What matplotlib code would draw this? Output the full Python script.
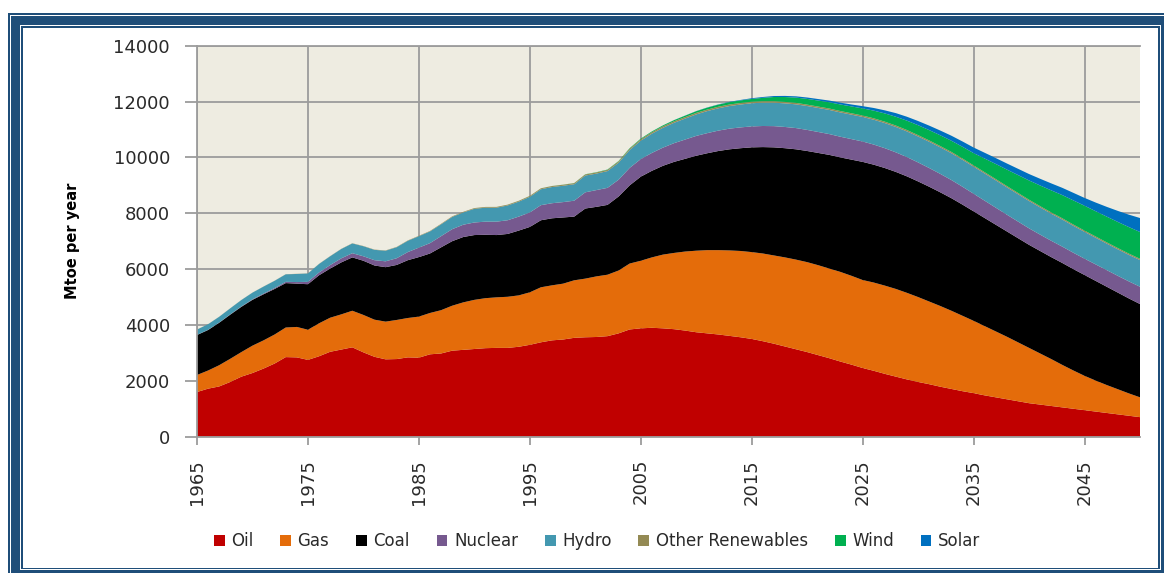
import matplotlib
matplotlib.use("Agg")
import matplotlib.pyplot as plt
from matplotlib.patches import Rectangle

# ---------------- data (Mtoe per year) ----------------
years = list(range(1965, 2051))

oil = [1600, 1720, 1800, 1960, 2150, 2280, 2440, 2620, 2850, 2840,
       2750, 2880, 3040, 3120, 3200, 3020, 2860, 2770, 2780, 2840,
       2830, 2950, 2980, 3080, 3110, 3140, 3170, 3180, 3180, 3220,
       3290, 3380, 3450, 3480, 3540, 3560, 3570, 3600, 3700, 3840,
       3880, 3900, 3880, 3850, 3800, 3740, 3700, 3660, 3610, 3560,
       3500, 3420, 3330, 3230, 3130, 3030, 2920, 2810, 2690, 2580,
       2460, 2360, 2250, 2150, 2050, 1960, 1880, 1790, 1710, 1630,
       1560, 1480, 1410, 1340, 1270, 1200, 1150, 1100, 1050, 1000,
       950, 900, 850, 800, 750, 700]

gas = [610, 650, 760, 830, 880, 980, 1010, 1040, 1060, 1090,
       1080, 1180, 1220, 1260, 1310, 1340, 1330, 1350, 1400, 1410,
       1470, 1480, 1550, 1610, 1700, 1760, 1790, 1810, 1830, 1840,
       1880, 1970, 1970, 2000, 2060, 2100, 2170, 2200, 2250, 2360,
       2420, 2520, 2640, 2730, 2830, 2920, 2980, 3020, 3060, 3090,
       3110, 3140, 3160, 3190, 3210, 3220, 3220, 3210, 3210, 3180,
       3150, 3160, 3160, 3140, 3100, 3040, 2960, 2890, 2800, 2700,
       2590, 2480, 2360, 2240, 2110, 1980, 1830, 1680, 1520, 1370,
       1230, 1110, 1000, 900, 800, 710]

coal = [1430, 1450, 1520, 1580, 1620, 1640, 1650, 1630, 1590, 1550,
        1630, 1720, 1760, 1860, 1910, 1940, 1940, 1950, 1970, 2070,
        2130, 2130, 2250, 2310, 2340, 2320, 2270, 2230, 2250, 2320,
        2340, 2400, 2400, 2370, 2280, 2510, 2490, 2500, 2650, 2800,
        3010, 3100, 3180, 3260, 3320, 3400, 3470, 3550, 3620, 3680,
        3750, 3810, 3870, 3910, 3950, 3980, 4020, 4070, 4100, 4160,
        4230, 4220, 4210, 4190, 4170, 4140, 4110, 4070, 4030, 3980,
        3920, 3870, 3820, 3770, 3730, 3690, 3670, 3650, 3650, 3630,
        3610, 3570, 3520, 3460, 3400, 3340]

nuclear = [6, 8, 9, 12, 14, 18, 25, 33, 45, 57,
           85, 100, 125, 145, 150, 160, 190, 210, 240, 290,
           340, 370, 400, 430, 440, 450, 470, 480, 490, 500,
           520, 540, 540, 550, 570, 580, 600, 610, 600, 625,
           630, 640, 650, 670, 690, 710, 720, 730, 740, 745,
           750, 755, 760, 760, 760, 755, 750, 745, 740, 735,
           730, 720, 710, 700, 690, 680, 670, 660, 650, 640,
           630, 620, 610, 600, 595, 590, 585, 585, 585, 585,
           585, 590, 595, 600, 610, 620]

hydro = [190, 200, 205, 215, 230, 240, 250, 260, 270, 290,
         300, 305, 315, 335, 350, 360, 370, 380, 395, 405,
         410, 420, 425, 440, 440, 490, 500, 500, 530, 535,
         560, 570, 580, 585, 590, 600, 590, 600, 610, 640,
         660, 690, 710, 730, 750, 770, 790, 800, 810, 820,
         830, 835, 840, 845, 850, 855, 860, 865, 870, 875,
         880, 890, 900, 910, 920, 930, 940, 950, 960, 965,
         970, 975, 980, 980, 980, 980, 975, 970, 970, 965,
         960, 955, 950, 950, 950, 955]

other_renewables = [3, 3, 3, 3, 3, 3, 4, 4, 4, 5,
                    5, 5, 6, 6, 7, 8, 9, 10, 11, 12,
                    14, 16, 18, 20, 22, 25, 26, 27, 28, 30,
                    32, 33, 34, 36, 38, 40, 42, 44, 46, 48,
                    50, 52, 53, 54, 55, 55, 55, 55, 55, 54,
                    54, 53, 53, 52, 52, 50, 50, 50, 50, 50,
                    50, 50, 50, 50, 50, 48, 48, 47, 47, 46,
                    45, 45, 45, 45, 45, 45, 45, 45, 45, 45,
                    45, 45, 45, 45, 45, 45]

wind = [0, 0, 0, 0, 0, 0, 0, 0, 0, 0,
        0, 0, 0, 0, 0, 0, 0, 0, 0, 0,
        0, 0, 0, 0, 0, 1, 1, 1, 1, 2,
        2, 2, 3, 4, 5, 7, 9, 12, 14, 18,
        22, 27, 33, 40, 50, 60, 68, 76, 84, 92,
        100, 120, 150, 175, 190, 205, 215, 225, 235, 245,
        255, 275, 295, 315, 335, 355, 370, 385, 400, 420,
        440, 490, 540, 590, 640, 690, 740, 790, 830, 865,
        890, 905, 920, 935, 950, 960]

solar = [0, 0, 0, 0, 0, 0, 0, 0, 0, 0,
         0, 0, 0, 0, 0, 0, 0, 0, 0, 0,
         0, 0, 0, 0, 0, 0, 0, 0, 0, 0,
         0, 0, 0, 0, 0, 0.1, 0.2, 0.3, 0.5, 0.7,
         1, 1.3, 1.7, 3, 4, 5, 7, 9, 12, 17,
         25, 30, 35, 40, 45, 50, 55, 60, 65, 70,
         80, 95, 110, 130, 140, 150, 160, 170, 180, 190,
         200, 206, 212, 218, 224, 230, 240, 250, 260, 270,
         280, 310, 350, 395, 445, 500]

series_labels = ["Oil", "Gas", "Coal", "Nuclear", "Hydro",
                 "Other Renewables", "Wind", "Solar"]
series_colors = ["#C00000", "#E46C0A", "#000000", "#76598F", "#4398B0",
                 "#948A54", "#00B050", "#0070C0"]
xtick_years = [1965, 1975, 1985, 1995, 2005, 2015, 2025, 2035, 2045]
yticks = [0, 2000, 4000, 6000, 8000, 10000, 12000, 14000]

# ---------------- figure ----------------
W, H = 1164, 573
fig = plt.figure(figsize=(W / 100, H / 100), dpi=100)
fig.patch.set_facecolor("white")

BLUE = "#1F4E79"


def rect(x0, y0, x1, y1, color, z):
    fig.add_artist(Rectangle((x0 / W, 1 - y1 / H), (x1 - x0) / W, (y1 - y0) / H,
                             transform=fig.transFigure, facecolor=color,
                             edgecolor="none", zorder=z))


# decorative frame
rect(8, 12.7, W + 5, H + 5, BLUE, -10)
rect(10.5, 15, W + 5, H + 5, "white", -9)
rect(11, 16, W + 5, H + 5, BLUE, -8)
rect(20, 25, 1161.3, 569.5, "white", -7)
rect(21, 26.3, 1160, 569, BLUE, -6)
rect(23, 28, 1158.3, 568, "white", -5)

ax = fig.add_axes([197 / W, 1 - 436.7 / H, (1140 - 197) / W, (436.7 - 45.7) / H])
ax.set_facecolor("#EEECE1")

polys = ax.stackplot(years, oil, gas, coal, nuclear, hydro, other_renewables,
                     wind, solar, colors=series_colors, labels=series_labels,
                     linewidth=0, zorder=3)

ax.set_xlim(1965, 2050)
ax.set_ylim(0, 14000)
ax.set_yticks(yticks)
ax.set_yticklabels([str(v) for v in yticks])
ax.set_xticks(xtick_years)
ax.set_xticklabels([str(v) for v in xtick_years], rotation=90)

GRID = "#9C9C9C"
ax.grid(True, color=GRID, linewidth=1.3, zorder=1)
ax.set_axisbelow(True)
ax.axhline(14000, color=GRID, linewidth=1.3, clip_on=False, zorder=1)
for s in ["top", "right"]:
    ax.spines[s].set_visible(False)
for s in ["left", "bottom"]:
    ax.spines[s].set_color(GRID)
    ax.spines[s].set_linewidth(1.3)
    ax.spines[s].set_zorder(5)

TXT = "#2A2A2A"
ax.tick_params(axis="y", length=8.5, width=1.3, color=GRID, pad=11,
               labelsize=13, labelcolor=TXT)
ax.tick_params(axis="x", length=6, width=1.3, color=GRID, pad=10,
               labelsize=13, labelcolor=TXT)

ax.set_ylabel("Mtoe per year", fontsize=10.5, fontweight="bold", color="black")
ax.yaxis.set_label_coords((80 - 197) / (1140 - 197), 0.5)

leg = fig.legend(loc="center", bbox_to_anchor=(597 / W, 1 - 541 / H), ncol=8,
                 frameon=False, fontsize=12, handlelength=0.65, handleheight=0.65,
                 handletextpad=0.4, columnspacing=1.6, borderaxespad=0)
for t in leg.get_texts():
    t.set_color(TXT)

fig.savefig("out.png", dpi=100)
